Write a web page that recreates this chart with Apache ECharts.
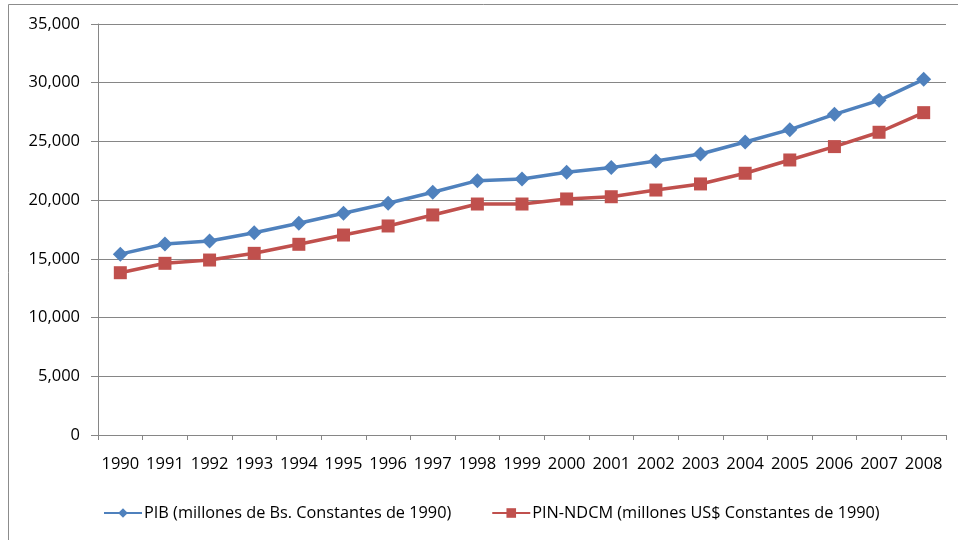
<!DOCTYPE html>
<html>
<head>
<meta charset="utf-8">
<script src="https://cdn.jsdelivr.net/npm/echarts@6/dist/echarts.min.js"></script>
<style>html,body{margin:0;padding:0;background:#fff}#c{width:958px;height:540px}</style>
</head>
<body>
<div id="c"></div>
<script>
const years = ['1990','1991','1992','1993','1994','1995','1996','1997','1998','1999','2000','2001','2002','2003','2004','2005','2006','2007','2008'];
const pib = [15400,16270,16520,17230,18030,18880,19730,20670,21660,21800,22370,22770,23330,23930,24950,26000,27310,28500,30290];
const pinNdcm = [13820,14620,14900,15470,16240,17030,17800,18740,19670,19670,20100,20290,20860,21380,22290,23420,24560,25780,27450];
const seriesNames = ['PIB (millones de Bs. Constantes de 1990)','PIN-NDCM (millones US$ Constantes de 1990)'];
const yTicks = {min:0, max:35000, interval:5000};

const chart = echarts.init(document.getElementById('c'));
const font = '"Open Sans", "Noto Sans", sans-serif';
chart.setOption({
  animation:false,
  graphic:[{type:'rect', shape:{x:8.5,y:4.5,width:1000,height:600}, style:{fill:'none',stroke:'#8c8c8c',lineWidth:1}, silent:true}],
  grid:{left:98,right:12,top:24,bottom:105},
  legend:{
    left:98, top:500, itemWidth:38, itemHeight:12, itemGap:40,
    textStyle:{fontFamily:font,fontSize:16.3,color:'#000',padding:[0,0,0,-3]},
    data:[seriesNames[0],seriesNames[1]]
  },
  xAxis:{
    type:'category', data:years, boundaryGap:true,
    axisLine:{lineStyle:{color:'#868686',width:1}},
    axisTick:{show:true,interval:0,length:5,lineStyle:{color:'#868686'}},
    axisLabel:{interval:0,margin:21,fontFamily:font,fontSize:16.5,color:'#000'},
    splitLine:{show:false}
  },
  yAxis:{
    type:'value', min:yTicks.min, max:yTicks.max, interval:yTicks.interval,
    axisLine:{show:true,lineStyle:{color:'#868686',width:1}},
    axisTick:{show:true,length:7,lineStyle:{color:'#868686'}},
    axisLabel:{margin:18,fontFamily:font,fontSize:16.5,color:'#000',formatter:v=>v.toLocaleString('en-US')},
    splitLine:{show:true,lineStyle:{color:'#868686',width:1}}
  },
  series:[
    {name:seriesNames[0],type:'line',data:pib,symbol:'diamond',symbolSize:15,
     lineStyle:{color:'#4F81BD',width:3.5},itemStyle:{color:'#4F81BD'}},
    {name:seriesNames[1],type:'line',data:pinNdcm,symbol:'rect',symbolSize:13,
     lineStyle:{color:'#C0504D',width:3.5},itemStyle:{color:'#C0504D'}}
  ]
});
</script>
</body>
</html>
